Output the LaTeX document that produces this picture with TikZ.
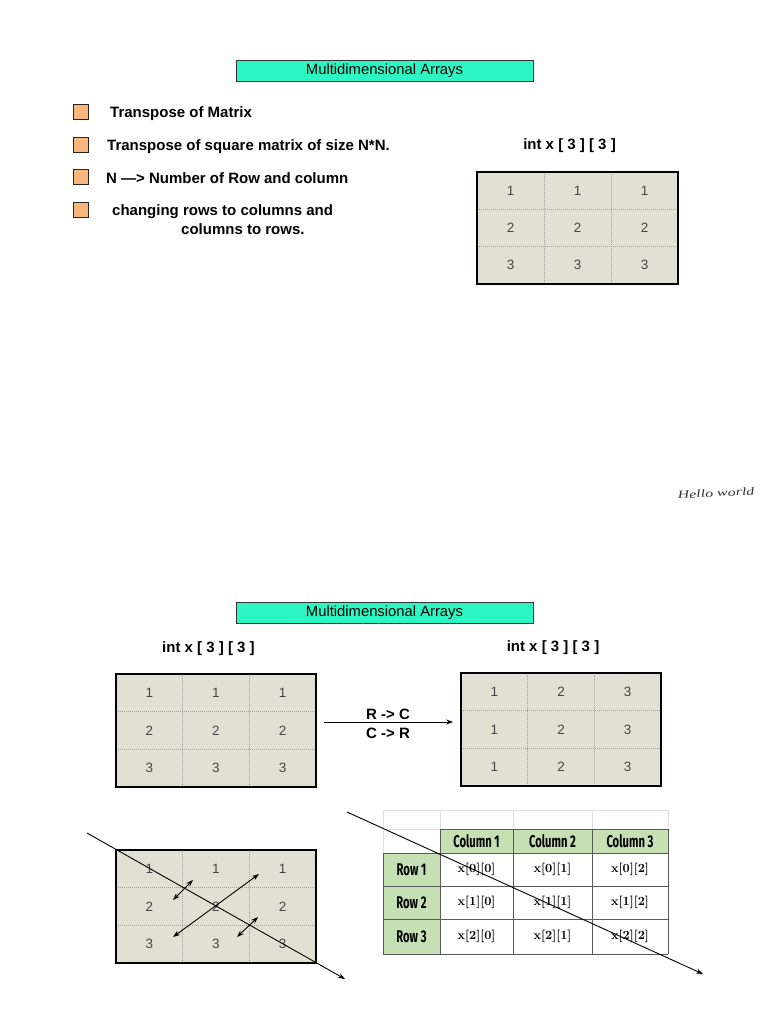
\documentclass[tikz,border=0pt]{standalone}
\usepackage{fontspec}
\setmainfont{Liberation Sans}
\newfontfamily\lmbold{lmroman10-bold}[Extension=.otf]
\newfontfamily\condf[FakeStretch=0.66]{Fira Sans}
\newfontfamily\handf{Liberation Serif}
\usetikzlibrary{arrows.meta,calc}
\definecolor{titlecyan}{RGB}{44,246,196}
\definecolor{bulletorange}{RGB}{249,181,122}
\definecolor{matfill}{RGB}{226,223,211}
\definecolor{tabgreen}{RGB}{198,224,180}
\definecolor{numgray}{RGB}{70,70,70}
\tikzset{
  titlebox/.style={draw=black!80, line width=0.8, fill=titlecyan, minimum width=297, minimum height=21, inner sep=0, font=\fontsize{14.8}{16}\selectfont},
  bulletbox/.style={draw=black!85, fill=bulletorange, minimum size=15, inner sep=0, line width=0.9},
  btext/.style={anchor=west, inner sep=0, font=\bfseries\fontsize{15}{17}\selectfont},
  intlabel/.style={inner sep=0, font=\bfseries\fontsize{15}{17}\selectfont},
  matframe/.style={draw=black, line width=1.8, inner sep=0},
  gridline/.style={gray!75, line width=0.7, dash pattern=on 1pt off 1pt},
  num/.style={inner sep=0, text=numgray, font=\fontsize{13.5}{15}\selectfont},
  arr/.style={-{Stealth[length=7pt,width=5pt]}, line width=0.9},
  darr/.style={{Stealth[length=7pt,width=5pt]}-{Stealth[length=7pt,width=5pt]}, line width=0.9},
  rclabel/.style={inner sep=0, font=\bfseries\fontsize{15}{17}\selectfont},
  tabhead/.style={inner sep=0, font=\condf\bfseries\fontsize{17}{18}\selectfont},
  tabcell/.style={inner sep=0, font=\lmbold\fontsize{12.5}{14}\selectfont},
  tline/.style={gray!70!black, line width=0.8},
  tlight/.style={gray!25, line width=0.8},
}
% #1 name, #2 x0, #3 y0, #4 x1, #5 y1, #6 values
\newcommand{\mymat}[6]{%
  \path[fill=matfill] (#2,#3) rectangle (#4,#5);
  \foreach \i in {1,2}{%
    \draw[gridline] ({#2+\i*(#4-#2)/3},#3) -- ({#2+\i*(#4-#2)/3},#5);
    \draw[gridline] (#2,{#3+\i*(#5-#3)/3}) -- (#4,{#3+\i*(#5-#3)/3});
  }
  \foreach \v [count=\k from 0] in {#6}{%
    \pgfmathtruncatemacro\cc{mod(\k,3)}
    \pgfmathtruncatemacro\rr{\k/3}
    \node[num] (#1-\rr-\cc) at ({#2+(\cc+0.5)*(#4-#2)/3},{#3+(\rr+0.5)*(#5-#3)/3}) {\v};
  }
  \node[matframe, minimum width={(#4-#2)*1pt}, minimum height={(#5-#3)*1pt}] (#1) at ({(#2+#4)/2},{(#3+#5)/2}) {};
}
\begin{document}
\begin{tikzpicture}[x=1pt,y=-1pt]
\useasboundingbox[fill=white] (0,0) rectangle (768,1024);

% ---------- top part ----------
\node[titlebox] (title1) at (384.5,70.5) {Multidimensional Arrays};

\node[bulletbox] (b1) at (80.5,112) {};
\node[bulletbox] (b2) at (80.5,144.5) {};
\node[bulletbox] (b3) at (80.5,177) {};
\node[bulletbox] (b4) at (80.5,209.5) {};
\node[btext] (t1) at (110,113.5) {Transpose of Matrix};
\node[btext] (t2) at (107,146.5) {Transpose of square matrix of size N*N.};
\node[btext] (t3) at (106,178.5) {N —> Number of Row and column};
\node[btext] (t4) at (112,211.5) {changing rows to columns and};
\node[btext] (t5) at (181,229.5) {columns to rows.};

\node[intlabel] (int1) at (569.5,146) {int x [ 3 ] [ 3 ]};
\mymat{m1}{477}{172}{678}{284}{1,1,1,2,2,2,3,3,3}

\node[inner sep=0, text=black!80, font=\handf\itshape\fontsize{11}{13}\selectfont, xscale=1.45, rotate=4] (hw) at (716,493) {Hello world};

% ---------- bottom part ----------
\node[titlebox] (title2) at (384.5,612.5) {Multidimensional Arrays};

\node[intlabel] (int2) at (208.5,648.5) {int x [ 3 ] [ 3 ]};
\node[intlabel] (int3) at (553,648) {int x [ 3 ] [ 3 ]};

\mymat{m2}{116}{674}{316}{787}{1,1,1,2,2,2,3,3,3}
\mymat{m3}{461}{673}{661}{786}{1,2,3,1,2,3,1,2,3}

\draw[arr, shorten <=7pt, shorten >=7pt] (m2.east|-0,722) coordinate (a0) -- (m3.west|-0,722) coordinate (a1);
\node[rclabel] (rc) at (388,714.5) {R -> C};
\node[rclabel] (cr) at (388,733) {C -> R};

\mymat{m4}{116}{850}{316}{963}{1,1,1,2,2,2,3,3,3}
\coordinate (d0) at (87,833);
\coordinate (d1) at (345,979);
\draw[arr] (d0) -- (d1);
\coordinate (p1a) at (173,900); \coordinate (p1b) at (193,880);
\coordinate (p2a) at (173,937); \coordinate (p2b) at (259,874);
\coordinate (p3a) at (237,937); \coordinate (p3b) at (258,917);
\draw[darr] (p1a) -- (p1b);
\draw[darr] (p2a) -- (p2b);
\draw[darr] (p3a) -- (p3b);

% ---------- table ----------
% columns 383 440 513 592 668 ; rows 810 829 853 886 919 954
\fill[tabgreen] (440,829) rectangle (668,853);
\fill[tabgreen] (383,853) rectangle (440,954);
% light top row
\draw[tlight] (383,810) -- (668,810);
\foreach \xx in {383,440,513,592,668} \draw[tlight] (\xx,810) -- (\xx,829);
\draw[tlight] (383,829) -- (440,829) -- (440,853);
\draw[tlight] (383,829) -- (383,853);
% main grid
\draw[tline] (440,829) -- (668,829);
\foreach \yy in {853,886,919,954} \draw[tline] (383,\yy) -- (668,\yy);
\draw[tline] (383,853) -- (383,954);
\foreach \xx in {440,513,592,668} \draw[tline] (\xx,829) -- (\xx,954);

\node[tabhead] (c1) at (476.5,841) {Column 1};
\node[tabhead] (c2) at (552.5,841) {Column 2};
\node[tabhead] (c3) at (630,841) {Column 3};
\node[tabhead] (r1) at (411.5,869.5) {Row 1};
\node[tabhead] (r2) at (411.5,902.5) {Row 2};
\node[tabhead] (r3) at (411.5,936.5) {Row 3};
\foreach \r/\yy in {0/869.5,1/902.5,2/936.5}{
  \foreach \c/\xx in {0/476.5,1/552.5,2/630}{
    \node[tabcell] (x-\r-\c) at (\xx,\yy) {x[\r][\c]};
  }
}
\coordinate (e0) at (347,812);
\coordinate (e1) at (703,974);
\draw[arr] (e0) -- (e1);
\end{tikzpicture}
\end{document}
